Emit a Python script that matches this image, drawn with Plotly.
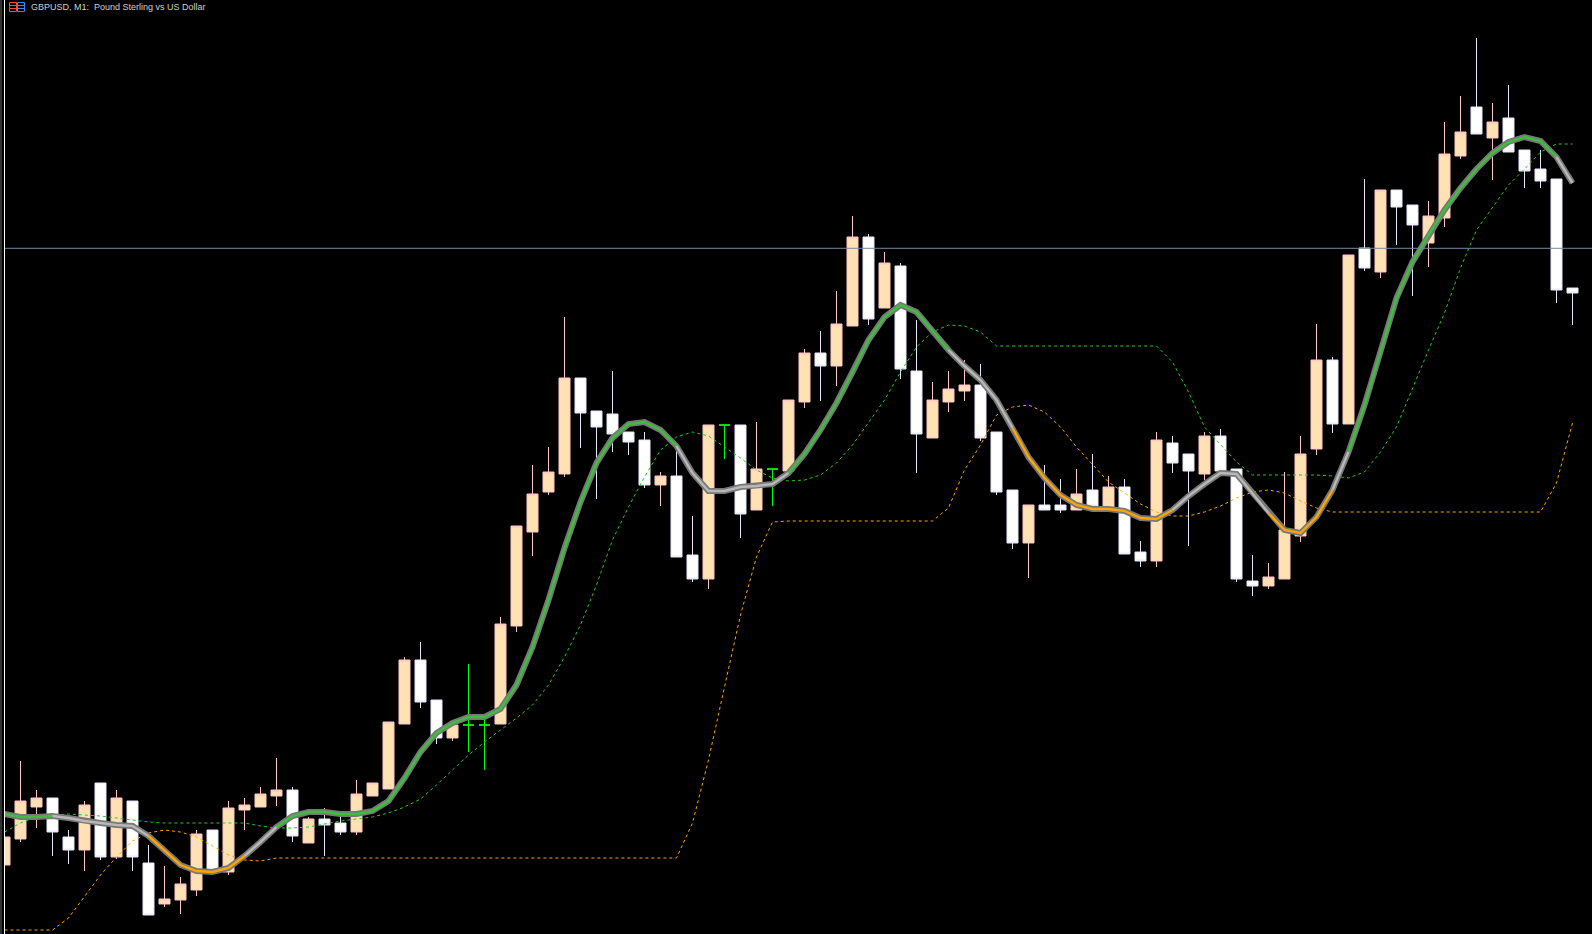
import plotly.graph_objects as go

# Price values are in chart points (0 = bottom of the pane, 934 = top)
bar_index = list(range(99))
# P = bull (peach), W = bear (white), G = flat (lime)
kind = ["P","P","P","W","W","P","W","P","W","W","P","P","P","W","P","P","P","P","W","P",
        "W","W","P","P","P","P","W","W","P","G","G","P","P","P","P","P","W","W","W","W",
        "W","P","W","W","P","G","W","P","G","P","P","W","P","P","W","P","W","W","P","P",
        "P","W","W","W","P","W","W","P","W","P","W","W","P","W","W","P","W","W","W","P",
        "P","P","P","W","P","W","P","W","W","P","P","P","W","P","W","W","W","W","W"]
open_ = [69,95,127,136,97,84,151,77,133,71,30,34,44,104,62,124,127,138,144,91,
         115,111,102,138,145,210,274,234,196,209,209,210,308,402,442,460,556,523,520,502,
         494,449,458,379,355,509,509,424,465,463,532,581,568,608,697,626,668,563,496,532,
         543,549,502,444,391,429,429,424,444,426,447,382,373,491,480,460,498,465,353,348,
         355,398,485,574,510,686,662,744,729,691,716,778,827,796,816,784,765,755,646]
high = [97,173,144,136,104,133,151,144,133,89,68,57,104,104,133,136,147,176,147,117,
        126,117,154,151,212,277,292,234,209,270,218,317,408,469,487,617,556,523,563,502,
        502,462,486,418,509,509,509,512,465,534,585,603,643,718,700,682,671,614,552,563,
        574,570,502,444,429,469,455,465,480,458,455,393,502,498,480,502,505,465,379,371,
        462,498,610,577,679,755,744,744,729,733,812,838,896,831,849,784,784,755,646]
low = [69,92,106,78,70,63,74,75,63,19,27,20,38,64,59,104,127,128,92,91,
       78,99,99,138,145,210,226,190,193,182,164,210,302,378,439,457,486,435,482,479,
       446,428,377,352,345,475,396,424,428,463,526,533,548,608,609,626,555,461,496,522,
       533,493,439,385,356,424,421,424,428,426,380,367,367,461,388,454,463,352,338,345,
       355,392,479,501,510,663,656,689,638,667,707,775,800,754,782,746,746,631,609]
close = [97,133,136,102,84,129,77,136,77,19,35,50,100,64,126,129,140,144,98,115,
         109,102,140,151,212,274,232,196,209,209,209,310,408,440,462,556,521,507,500,492,
         449,458,377,355,509,509,420,465,465,534,581,568,610,697,615,671,565,500,534,545,
         549,496,442,391,429,424,424,440,428,447,380,373,494,471,463,498,463,355,348,357,
         404,480,574,510,679,666,744,727,709,718,780,802,800,812,782,763,753,644,641]

# Thick moving average
ma_line = [120,117,117,118,116,113,111,109,108,98,83,69,63,62,66,78,92,107,118,122,
           122,120,120,123,133,156,182,201,211,217,217,225,249,287,334,386,432,471,496,510,
           512,504,488,461,443,443,447,448,450,461,480,504,531,562,594,617,629,622,603,584,
           568,554,534,506,477,456,439,429,425,425,423,416,415,424,438,450,461,460,441,421,
           404,401,417,444,482,529,582,636,672,699,724,746,765,781,792,797,793,777,751]
# Trend state of the moving average for each step to the next bar
ma_state = ["up"]*3 + ["flat"]*6 + ["down"]*6 + ["flat"]*2 + ["up"]*25 + ["flat"]*7 + ["up"]*10 \
    + ["flat"]*4 + ["down"]*10 + ["flat"]*6 + ["down"]*4 + ["flat"]*1 + ["up"]*13 + ["flat"]*1

upper_band = [102,111,117,119,120,119,118,116,114,112,111,111,111,111,111,111,108,106,106,107,
              110,113,115,117,121,127,135,149,164,179,192,204,216,229,249,277,309,349,394,427,
              457,484,497,502,498,487,476,464,456,453,454,459,471,489,511,534,562,587,602,609,
              608,602,588,588,588,588,588,588,588,588,588,588,588,572,542,507,489,472,459,459,
              459,459,459,458,456,462,482,507,546,584,621,666,704,726,749,765,782,790,790]
lower_band = [4,4,4,4,16,37,59,77,93,101,104,102,97,88,79,74,73,76,76,76,
              76,76,76,76,76,76,76,76,76,76,76,76,76,76,76,76,76,76,76,76,
              76,76,76,111,174,247,319,377,412,413,413,413,413,413,413,413,413,413,413,426,
              464,489,519,527,529,522,507,487,469,452,441,430,422,418,418,422,428,436,442,444,
              441,433,426,422,422,422,422,422,422,422,422,422,422,422,422,422,422,451,511]
level_price = 685.7

title = "GBPUSD, M1:  Pound Sterling vs US Dollar"

BG = "#000000"
colors = {"up": "#3CC03C", "down": "#FFA500", "flat": "#B8B8B8"}
style = {
    "P": dict(fill="#FFE1B4", line="#FFC4CC"),
    "W": dict(fill="#FFFFFF", line="#E6E6FA"),
    "G": dict(fill="#00FF00", line="#00FF00"),
}

fig = go.Figure()

for k in ["P", "W", "G"]:
    idx = [i for i, v in enumerate(kind) if v == k]
    s = style[k]
    side = dict(fillcolor=s["fill"], line=dict(color=s["line"], width=1))
    fig.add_trace(go.Candlestick(
        x=idx,
        open=[open_[i] for i in idx], high=[high[i] for i in idx],
        low=[low[i] for i in idx], close=[close[i] for i in idx],
        increasing=side, decreasing=side, whiskerwidth=0,
        showlegend=False, hoverinfo="skip", name=k,
    ))

for band, color in ((upper_band, "#22CC22"), (lower_band, "#FFA500")):
    fig.add_trace(go.Scatter(x=bar_index, y=band, mode="lines", showlegend=False, hoverinfo="skip",
                             line=dict(color=color, width=1, dash="3px,3px")))

fig.add_trace(go.Scatter(x=bar_index, y=ma_line, mode="lines", showlegend=False, hoverinfo="skip",
                         line=dict(color="#787878", width=6)))
for state, color in colors.items():
    xs, ys = [], []
    for i in range(len(bar_index) - 1):
        if ma_state[i] == state:
            if not xs or xs[-1] != i:
                if xs:
                    xs.append(None); ys.append(None)
                xs.append(i); ys.append(ma_line[i])
            xs.append(i + 1); ys.append(ma_line[i + 1])
    fig.add_trace(go.Scatter(x=xs, y=ys, mode="lines", showlegend=False, hoverinfo="skip",
                             connectgaps=False, line=dict(color=color, width=2.4)))

def px(x):
    return x / 1592
def py(y):
    return 1 - y / 934

shapes = [
    dict(type="line", xref="paper", yref="y", x0=px(5), x1=1, y0=level_price, y1=level_price,
         line=dict(color="#778899", width=1)),
    dict(type="rect", xref="paper", yref="paper", x0=0, x1=px(4), y0=0, y1=1,
         fillcolor="#000000", line_width=0, layer="above"),
    dict(type="rect", xref="paper", yref="paper", x0=0, x1=px(2), y0=0, y1=1,
         fillcolor="#303030", line_width=0, layer="above"),
    dict(type="line", xref="paper", yref="paper", x0=px(4.5), x1=px(4.5), y0=0, y1=1,
         line=dict(color="#FFFFFF", width=1), layer="above"),
]

# Small window icon in the caption
for x0, x1, c in ((9.5, 16.5, "#FF4A3A"), (17.5, 24.5, "#2E8CFF")):
    shapes.append(dict(type="rect", xref="paper", yref="paper", x0=px(x0), x1=px(x1), y0=py(11.5), y1=py(2.5),
                       line=dict(color=c, width=1), fillcolor="#000000", layer="above"))
    for y in (5.5, 8.5):
        shapes.append(dict(type="line", xref="paper", yref="paper", x0=px(x0), x1=px(x1), y0=py(y), y1=py(y),
                           line=dict(color=c, width=1), layer="above"))

fig.update_layout(
    width=1592, height=934, margin=dict(l=0, r=0, t=0, b=0), autosize=False,
    paper_bgcolor=BG, plot_bgcolor=BG, showlegend=False, boxmode="overlay", boxgap=0.3125, boxgroupgap=0,
    hovermode=False,
    xaxis=dict(range=[-0.28125, 99.21875], visible=False, rangeslider=dict(visible=False), fixedrange=True),
    yaxis=dict(range=[0, 934], visible=False, fixedrange=True),
    shapes=shapes,
    annotations=[dict(text=title, xref="paper", yref="paper", x=px(28.5), y=py(7), xanchor="left", yanchor="middle",
                      showarrow=False, font=dict(family="Liberation Sans", size=9, color="#D0D0D0"))],
)

fig.write_html("out.html", config={"displayModeBar": False},
               post_script="document.body.style.margin='0';document.body.style.overflow='hidden';")
